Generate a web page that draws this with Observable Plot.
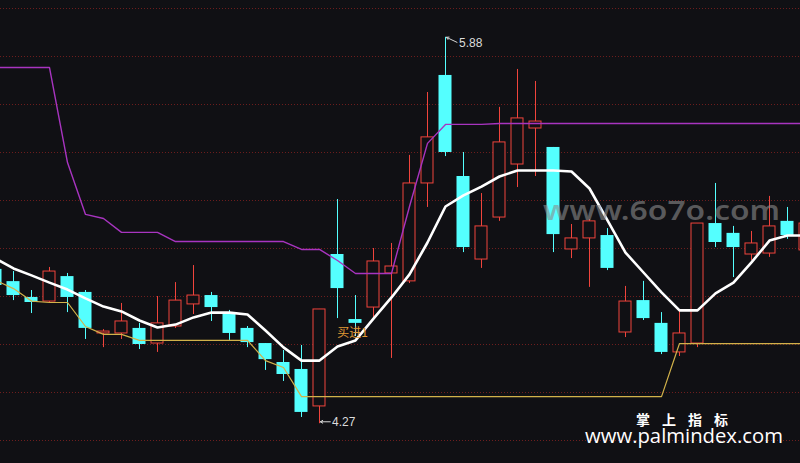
<!DOCTYPE html>
<html><head><meta charset="utf-8">
<script src="https://cdn.jsdelivr.net/npm/d3@7"></script>
<script src="https://cdn.jsdelivr.net/npm/@observablehq/plot@0.6"></script>
<style>
html,body{margin:0;padding:0;background:#101014;}
#wrap{width:800px;height:463px;overflow:hidden;}
</style></head><body><div id="wrap"></div>
<script>
const dayIndex = d3.range(-1, 45);
const opens = [4.913,4.862,4.796,4.779,4.883,4.817,4.646,4.646,4.667,4.604,4.675,4.767,4.804,4.733,4.667,4.604,4.525,4.496,4.342,4.975,4.704,4.754,4.896,4.863,5.271,5.721,5.300,4.954,5.129,5.350,5.500,5.421,4.996,5.042,5.054,4.650,4.783,4.688,4.567,4.604,5.104,5.063,4.975,4.979,5.113,4.992];
const closes = [4.846,4.804,4.775,4.904,4.796,4.667,4.654,4.696,4.600,4.688,4.783,4.804,4.754,4.646,4.608,4.537,4.475,4.317,4.746,4.833,4.688,4.946,4.925,5.271,5.463,5.400,5.004,5.092,5.442,5.542,5.529,5.058,5.042,5.113,4.917,4.779,4.708,4.567,4.646,5.104,5.025,5.004,5.021,5.092,5.054,5.104];
const highs = [4.929,4.904,4.825,4.921,4.896,4.825,4.662,4.771,4.688,4.800,4.858,4.929,4.817,4.742,4.675,4.604,4.575,4.596,4.746,5.204,4.804,5.000,5.021,5.388,5.650,5.880,5.400,5.229,5.588,5.746,5.696,5.421,5.100,5.121,5.083,4.842,4.863,4.733,4.738,5.104,5.271,5.092,5.071,5.217,5.171,5.138];
const lows = [4.825,4.783,4.729,4.771,4.733,4.621,4.587,4.621,4.579,4.567,4.667,4.725,4.696,4.617,4.587,4.492,4.446,4.296,4.270,4.708,4.633,4.704,4.542,4.854,5.171,5.383,4.983,4.917,5.113,5.254,5.300,4.983,4.958,4.838,4.908,4.629,4.700,4.558,4.550,4.587,5.004,4.879,4.950,4.963,5.038,4.971];
const maLine = [4.958,4.917,4.888,4.858,4.829,4.792,4.758,4.738,4.700,4.671,4.683,4.713,4.733,4.733,4.725,4.658,4.588,4.533,4.533,4.592,4.617,4.708,4.796,4.892,5.025,5.175,5.221,5.258,5.300,5.325,5.325,5.325,5.321,5.250,5.117,4.983,4.900,4.817,4.742,4.742,4.813,4.858,4.942,5.033,5.054,5.054];
const upperLine = [5.754,5.754,5.754,5.754,5.358,5.142,5.125,5.067,5.067,5.067,5.029,5.029,5.029,5.029,5.029,5.029,5.029,4.996,4.996,4.950,4.896,4.896,4.896,5.175,5.438,5.517,5.517,5.517,5.521,5.521,5.521,5.521,5.521,5.521,5.521,5.521,5.521,5.521,5.521,5.521,5.521,5.521,5.521,5.521,5.521,5.521];
const lowerLine = [4.867,4.833,4.781,4.775,4.775,4.675,4.642,4.642,4.617,4.617,4.617,4.617,4.617,4.617,4.617,4.533,4.504,4.383,4.383,4.383,4.383,4.383,4.383,4.383,4.383,4.383,4.383,4.383,4.383,4.383,4.383,4.383,4.383,4.383,4.383,4.383,4.383,4.383,4.604,4.604,4.604,4.604,4.604,4.604,4.604,4.604];
const gridPrices = [4.2,4.4,4.6,4.8,5.0,5.2,5.4,5.6,5.8,6.0];
const highMark = [{i: 24, price: 5.88, label: "5.88"}];
const lowMark = [{i: 17, price: 4.27, label: "4.27"}];
const signals = [{i: 19, price: 4.646, label: "买进1"}];

const data = dayIndex.map((i, k) => ({i, open: opens[k], close: closes[k], high: highs[k], low: lows[k],
  ma: maLine[k], upper: upperLine[k], lower: lowerLine[k], up: closes[k] >= opens[k]}));
const upDays = data.filter(d => d.up), downDays = data.filter(d => !d.up);
const BG = "#101014", RED = "#f0443c", CYAN = "#54ffff";

const chart = Plot.plot({
  width: 800, height: 463, margin: 0,
  style: {background: BG, overflow: "hidden"},
  x: {domain: [-13 / 18, 787 / 18], axis: null},
  y: {domain: [4.1042, 6.0333], axis: null},
  marks: [
    Plot.ruleY(gridPrices, {stroke: "#6e1e1e", strokeDasharray: "1,2"}),
    Plot.ruleX(upDays, {x: "i", y1: "low", y2: "high", stroke: RED}),
    Plot.ruleX(downDays, {x: "i", y1: "low", y2: "high", stroke: CYAN}),
    Plot.rect(downDays, {x1: d => d.i - 0.3611, x2: d => d.i + 0.3611, y1: "open", y2: "close", fill: CYAN}),
    Plot.rect(upDays, {x1: d => d.i - 0.3333, x2: d => d.i + 0.3333, y1: "open", y2: "close", fill: BG, stroke: RED, strokeWidth: 1}),
    Plot.line(data, {x: "i", y: "upper", stroke: "#a834c0", strokeWidth: 1.4}),
    Plot.line(data, {x: "i", y: "lower", stroke: "#d2b24a", strokeWidth: 1.2}),
    Plot.line(data, {x: "i", y: "ma", stroke: "#ffffff", strokeWidth: 2.6}),
    Plot.arrow(highMark, {x1: d => d.i + 0.64, y1: d => d.price - 0.021, x2: d => d.i + 0.05, y2: "price",
      stroke: "#d8d8d8", strokeWidth: 1, headLength: 4}),
    Plot.arrow(lowMark, {x1: d => d.i + 0.6, y1: d => d.price + 0.008, x2: d => d.i + 0.05, y2: d => d.price + 0.008,
      stroke: "#d8d8d8", strokeWidth: 1, headLength: 4}),
    Plot.text(highMark, {x: "i", y: "price", text: "label", dx: 13.5, dy: 6, textAnchor: "start",
      fill: "#dcdcdc", fontSize: 12, fontFamily: "Liberation Sans"}),
    Plot.text(lowMark, {x: "i", y: "price", text: "label", dx: 12.5, dy: -2, textAnchor: "start",
      fill: "#dcdcdc", fontSize: 12, fontFamily: "Liberation Sans"}),
    Plot.text(signals, {x: "i", y: "price", text: "label", dx: -3, fill: "#e09a36", fontSize: 12, fontFamily: "Noto Sans CJK SC"})
  ]
});
document.getElementById("wrap").appendChild(chart);

const svg = d3.select(chart);
svg.append("text").attr("x", 543).attr("y", 220).attr("text-anchor", "start")
  .attr("textLength", 237).attr("lengthAdjust", "spacingAndGlyphs")
  .attr("font-family", "Noto Sans").attr("font-weight", 600).attr("font-size", 27)
  .attr("fill", "rgba(140,140,140,0.6)").text("www.6o7o.com");
svg.append("text").attr("x", 636).attr("y", 425).attr("text-anchor", "start").attr("letter-spacing", 12)
  .attr("font-family", "Noto Sans CJK SC").attr("font-weight", 700).attr("font-size", 14)
  .attr("fill", "#ffffff").text("掌上指标");
svg.append("text").attr("x", 585).attr("y", 443).attr("text-anchor", "start")
  .attr("textLength", 198).attr("lengthAdjust", "spacingAndGlyphs")
  .attr("font-family", "Open Sans").attr("font-size", 20)
  .attr("fill", "#ffffff").text("www.palmindex.com");
</script></body></html>
